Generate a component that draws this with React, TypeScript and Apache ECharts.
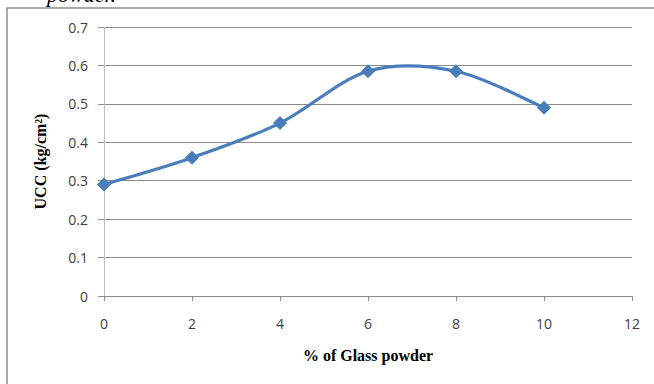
import React, { useEffect, useRef } from "react";
import * as echarts from "echarts";

const glassPowder = [0, 2, 4, 6, 8, 10];
const ucc = [0.29, 0.36, 0.45, 0.585, 0.585, 0.49];
const xTicks = { min: 0, max: 12, interval: 2 };
const yTicks = { min: 0, max: 0.7, interval: 0.1 };

const LINE_COLOR = "#4a7ebb";

export default function App() {
  const ref = useRef<HTMLDivElement>(null);
  useEffect(() => {
    if (!ref.current) return;
    const chart = echarts.init(ref.current, null, { renderer: "svg" });
    const points = glassPowder.map((x, i) => [x, ucc[i]]);
    chart.setOption({
      animation: false,
      backgroundColor: "#ffffff",
      graphic: [
        {
          type: "rect",
          shape: { x: 7, y: 8, width: 660, height: 400 },
          style: { fill: "none", stroke: "#8c8c8c", lineWidth: 1.5 },
          silent: true,
        },
        {
          type: "text",
          x: 47,
          y: -6,
          style: {
            text: "powder.",
            font: "italic 22px 'Liberation Serif'",
            fill: "#000",
            verticalAlign: "middle",
          },
        },
      ],
      grid: { left: 104, right: 22, top: 27, bottom: 88 },
      xAxis: {
        type: "value",
        min: xTicks.min,
        max: xTicks.max,
        interval: xTicks.interval,
        name: "% of Glass powder",
        nameLocation: "middle",
        nameGap: 51,
        nameTextStyle: {
          fontFamily: "Liberation Serif",
          fontWeight: "bold",
          fontSize: 16,
          color: "#000",
        },
        axisLine: { show: true, lineStyle: { color: "#8c8c8c", width: 1 } },
        axisTick: { show: true, length: 5, lineStyle: { color: "#8c8c8c" } },
        axisLabel: {
          margin: 20,
          fontFamily: "Open Sans",
          fontSize: 14,
          color: "#404040",
        },
        splitLine: { show: false },
      },
      yAxis: {
        type: "value",
        min: yTicks.min,
        max: yTicks.max,
        interval: yTicks.interval,
        name: "UCC (kg/cm²)",
        nameLocation: "middle",
        nameGap: 56,
        nameTextStyle: {
          fontFamily: "Liberation Serif",
          fontWeight: "bold",
          fontSize: 16,
          color: "#000",
        },
        axisLine: { show: true, lineStyle: { color: "#c0c0c0", width: 1 } },
        axisTick: { show: true, length: 6, lineStyle: { color: "#8c8c8c" } },
        axisLabel: {
          margin: 16,
          fontFamily: "Open Sans",
          fontSize: 14,
          color: "#404040",
          formatter: (v: number) => String(Math.round(v * 10) / 10),
        },
        splitLine: { show: true, lineStyle: { color: "#8c8c8c", width: 1 } },
      },
      series: [
        {
          type: "custom",
          data: [[0]],
          silent: true,
          z: 2,
          renderItem: (_params: any, api: any) => {
            const px = points.map((p) => api.coord(p));
            const n = px.length;
            const get = (i: number) => px[Math.max(0, Math.min(n - 1, i))];
            let d = `M${px[0][0]},${px[0][1]}`;
            for (let i = 0; i < n - 1; i++) {
              const p0 = get(i - 1);
              const p1 = get(i);
              const p2 = get(i + 1);
              const p3 = get(i + 2);
              const c1x = p1[0] + (p2[0] - p0[0]) / 6;
              const c1y = p1[1] + (p2[1] - p0[1]) / 6;
              const c2x = p2[0] - (p3[0] - p1[0]) / 6;
              const c2y = p2[1] - (p3[1] - p1[1]) / 6;
              d += ` C${c1x},${c1y} ${c2x},${c2y} ${p2[0]},${p2[1]}`;
            }
            return {
              type: "path",
              shape: { pathData: d },
              style: { stroke: LINE_COLOR, lineWidth: 3.2, fill: "none" },
            };
          },
        },
        {
          type: "line",
          data: points,
          z: 3,
          symbol: "diamond",
          symbolSize: 14,
          lineStyle: { width: 0, opacity: 0 },
          itemStyle: { color: LINE_COLOR },
        },
      ],
    });
    return () => chart.dispose();
  }, []);
  return <div ref={ref} style={{ width: 654, height: 384, position: "absolute", left: 0, top: 0 }} />;
}
